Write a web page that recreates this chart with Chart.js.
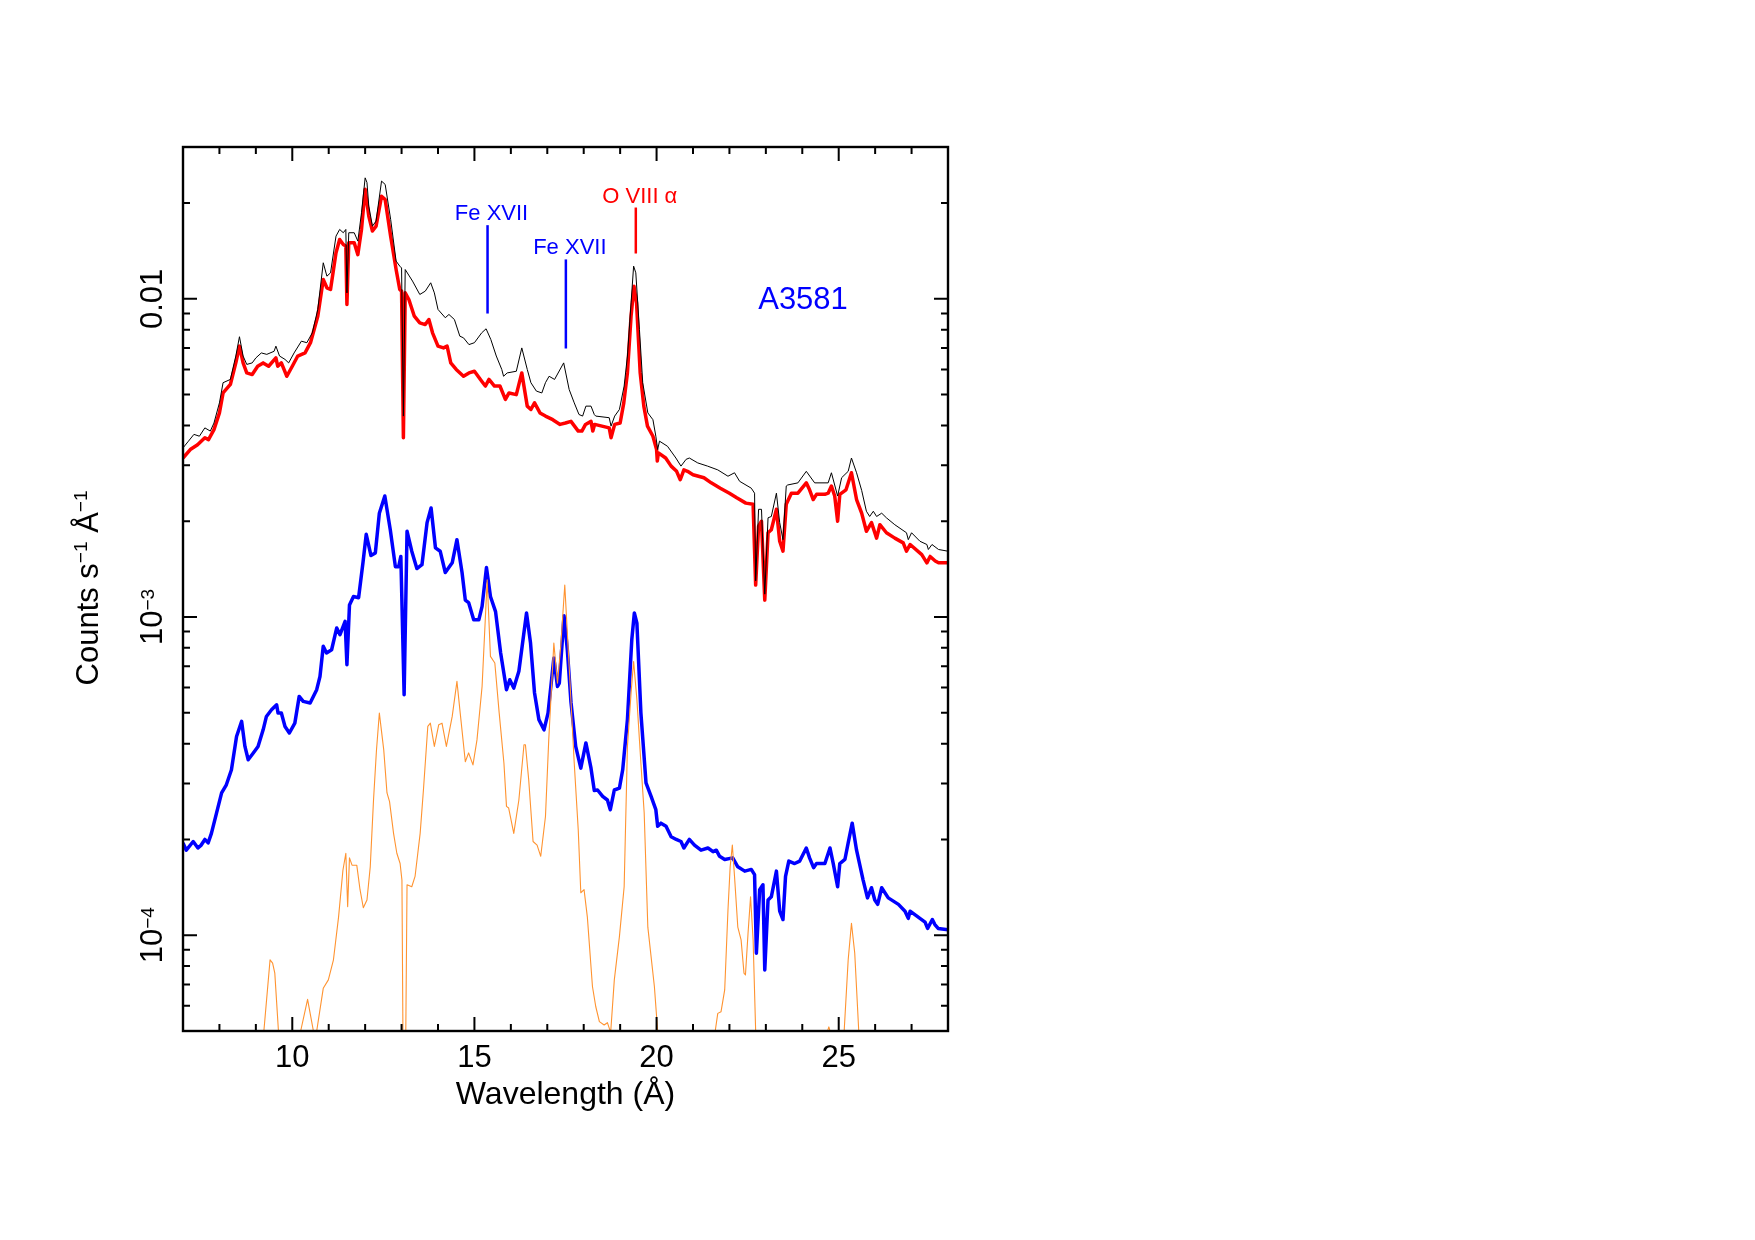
<!DOCTYPE html>
<html>
<head>
<meta charset="utf-8">
<script src="https://cdn.jsdelivr.net/npm/chart.js@4.4.0/dist/chart.umd.min.js"></script>
<style>
  html, body { margin: 0; padding: 0; background: #fff; }
  #wrap { width: 1755px; height: 1240px; }
</style>
</head>
<body>
<div id="wrap"><canvas id="spec" width="1755" height="1240"></canvas></div>
<script>
// ----------------------------
// Data (wavelength in Å, counts s^-1 Å^-1)
// ----------------------------
const blackWave = [7.0, 7.15, 7.3, 7.45, 7.6, 7.75, 7.85, 8.0, 8.1, 8.3, 8.45, 8.55, 8.65, 8.75, 8.9, 9.0, 9.15, 9.3, 9.5, 9.55, 9.65, 9.8, 9.9, 10.05, 10.25, 10.4, 10.55, 10.7, 10.85, 10.95, 11.05, 11.2, 11.3, 11.4, 11.47, 11.5, 11.55, 11.7, 11.8, 11.9, 12.0, 12.05, 12.1, 12.2, 12.3, 12.45, 12.55, 12.7, 12.85, 12.95, 13.0, 13.05, 13.1, 13.3, 13.5, 13.65, 13.8, 13.9, 14.0, 14.2, 14.3, 14.45, 14.6, 14.7, 14.85, 15.0, 15.2, 15.32, 15.45, 15.6, 15.75, 15.8, 15.9, 16.15, 16.3, 16.45, 16.55, 16.7, 16.85, 16.95, 17.05, 17.2, 17.45, 17.6, 17.74, 17.87, 17.97, 18.06, 18.2, 18.29, 18.33, 18.7, 18.75, 18.85, 18.98, 19.11, 19.2, 19.3, 19.37, 19.43, 19.53, 19.62, 19.76, 19.9, 19.98, 20.03, 20.08, 20.3, 20.53, 20.67, 20.81, 20.9, 21.13, 21.4, 21.68, 21.96, 22.14, 22.28, 22.6, 22.69, 22.72, 22.8, 22.88, 22.97, 23.06, 23.15, 23.29, 23.38, 23.47, 23.56, 23.6, 23.88, 24.11, 24.34, 24.71, 24.8, 24.97, 25.08, 25.26, 25.35, 25.49, 25.63, 25.76, 25.85, 25.95, 26.04, 26.18, 26.31, 26.54, 26.86, 26.91, 27.0, 27.23, 27.42, 27.46, 27.56, 27.74, 28.0];
const blackFlux = [0.0034, 0.00357, 0.00375, 0.0037, 0.00393, 0.00384, 0.00407, 0.00471, 0.00545, 0.00558, 0.00661, 0.0076, 0.00661, 0.00622, 0.00629, 0.00652, 0.00676, 0.00669, 0.00684, 0.0071, 0.00661, 0.00645, 0.00629, 0.00676, 0.00736, 0.00728, 0.00782, 0.00926, 0.01298, 0.01178, 0.01207, 0.01574, 0.01652, 0.01613, 0.01652, 0.01044, 0.01613, 0.01613, 0.01518, 0.01864, 0.024, 0.0232, 0.01956, 0.01692, 0.01755, 0.02344, 0.02288, 0.01777, 0.01314, 0.01267, 0.0125, 0.00428, 0.01236, 0.01137, 0.01032, 0.01057, 0.01123, 0.01044, 0.00926, 0.00872, 0.00893, 0.00861, 0.00763, 0.00754, 0.00718, 0.00728, 0.00782, 0.00805, 0.00745, 0.00661, 0.006, 0.00571, 0.00585, 0.00592, 0.00701, 0.006, 0.00545, 0.00513, 0.00506, 0.00545, 0.00571, 0.00558, 0.00629, 0.00519, 0.00471, 0.00433, 0.00428, 0.0046, 0.0046, 0.00433, 0.00428, 0.00423, 0.00398, 0.00428, 0.00449, 0.00532, 0.00661, 0.00971, 0.01267, 0.01207, 0.008, 0.00545, 0.00438, 0.00417, 0.0037, 0.00336, 0.00357, 0.00344, 0.00316, 0.00298, 0.00313, 0.00316, 0.00305, 0.00298, 0.0029, 0.00277, 0.00284, 0.00267, 0.00254, 0.00245, 0.0013, 0.00218, 0.00218, 0.00118, 0.00205, 0.00207, 0.00245, 0.00198, 0.00175, 0.00258, 0.0026, 0.00264, 0.00287, 0.00264, 0.00264, 0.00284, 0.0024, 0.00274, 0.00287, 0.00316, 0.00284, 0.0025, 0.00215, 0.00207, 0.00215, 0.00207, 0.00212, 0.00205, 0.00195, 0.00184, 0.00175, 0.00184, 0.00173, 0.00169, 0.00163, 0.00169, 0.00163, 0.00161];

const redWave = [7.0, 7.2, 7.4, 7.6, 7.7, 7.85, 8.0, 8.1, 8.3, 8.45, 8.55, 8.65, 8.75, 8.9, 9.05, 9.2, 9.35, 9.55, 9.6, 9.7, 9.85, 10.0, 10.15, 10.35, 10.5, 10.7, 10.85, 10.95, 11.05, 11.2, 11.3, 11.4, 11.47, 11.5, 11.55, 11.7, 11.8, 11.9, 12.0, 12.1, 12.2, 12.3, 12.45, 12.55, 12.7, 12.85, 12.95, 13.0, 13.05, 13.1, 13.2, 13.35, 13.5, 13.65, 13.75, 13.85, 14.0, 14.15, 14.25, 14.35, 14.5, 14.7, 14.85, 15.0, 15.2, 15.3, 15.4, 15.55, 15.7, 15.85, 15.95, 16.15, 16.3, 16.45, 16.55, 16.65, 16.8, 16.95, 17.15, 17.35, 17.5, 17.65, 17.85, 17.95, 18.05, 18.2, 18.25, 18.3, 18.5, 18.7, 18.75, 18.85, 19.0, 19.1, 19.2, 19.3, 19.38, 19.45, 19.55, 19.65, 19.75, 19.9, 20.0, 20.02, 20.05, 20.25, 20.4, 20.55, 20.65, 20.75, 20.85, 21.0, 21.3, 21.5, 21.75, 22.0, 22.2, 22.45, 22.65, 22.72, 22.8, 22.88, 22.97, 23.06, 23.15, 23.29, 23.38, 23.47, 23.56, 23.7, 23.88, 24.11, 24.2, 24.3, 24.39, 24.62, 24.71, 24.8, 24.89, 24.97, 25.03, 25.2, 25.35, 25.49, 25.63, 25.76, 25.9, 26.04, 26.13, 26.31, 26.54, 26.77, 26.86, 26.96, 27.28, 27.42, 27.51, 27.65, 27.74, 28.0];
const redFlux = [0.00316, 0.00336, 0.00348, 0.00366, 0.00361, 0.00388, 0.00438, 0.00506, 0.00538, 0.00629, 0.0071, 0.00629, 0.00585, 0.00578, 0.00614, 0.00629, 0.00614, 0.00652, 0.00614, 0.00629, 0.00571, 0.00614, 0.00661, 0.00676, 0.00728, 0.00882, 0.0115, 0.01083, 0.0107, 0.01395, 0.01537, 0.01482, 0.01464, 0.0096, 0.015, 0.015, 0.01377, 0.01652, 0.0221, 0.0182, 0.01633, 0.01692, 0.021, 0.0205, 0.01574, 0.01236, 0.0107, 0.01057, 0.00366, 0.01044, 0.00995, 0.00882, 0.0084, 0.0083, 0.00861, 0.00782, 0.0071, 0.00701, 0.0071, 0.00629, 0.006, 0.00571, 0.00585, 0.00592, 0.00551, 0.00532, 0.00558, 0.00532, 0.00532, 0.00483, 0.00506, 0.005, 0.00585, 0.0046, 0.00449, 0.00471, 0.00438, 0.00428, 0.00417, 0.00403, 0.00407, 0.00412, 0.00384, 0.00384, 0.00403, 0.00412, 0.00384, 0.00403, 0.00398, 0.00393, 0.00366, 0.00403, 0.00407, 0.00471, 0.00585, 0.00882, 0.01096, 0.00971, 0.00585, 0.0046, 0.00398, 0.0037, 0.00336, 0.00309, 0.00328, 0.00316, 0.00298, 0.00287, 0.0027, 0.0029, 0.00287, 0.0028, 0.00274, 0.00264, 0.00254, 0.00245, 0.00237, 0.00228, 0.00226, 0.00126, 0.00193, 0.002, 0.00113, 0.00184, 0.00188, 0.00218, 0.00173, 0.00161, 0.00226, 0.00245, 0.00245, 0.00264, 0.00251, 0.00234, 0.00243, 0.00243, 0.00245, 0.00258, 0.0024, 0.002, 0.00243, 0.00251, 0.00284, 0.00234, 0.00212, 0.00186, 0.00198, 0.00177, 0.00195, 0.00184, 0.00177, 0.00171, 0.00161, 0.00169, 0.00157, 0.00148, 0.00155, 0.0015, 0.00148, 0.00148];

const blueWave = [7.0, 7.09, 7.28, 7.41, 7.5, 7.6, 7.69, 7.78, 7.92, 8.06, 8.19, 8.33, 8.47, 8.61, 8.7, 8.79, 8.93, 9.06, 9.2, 9.29, 9.43, 9.57, 9.61, 9.7, 9.8, 9.92, 10.07, 10.19, 10.3, 10.49, 10.67, 10.76, 10.85, 10.94, 11.08, 11.22, 11.31, 11.45, 11.5, 11.57, 11.68, 11.82, 11.94, 12.03, 12.16, 12.28, 12.39, 12.54, 12.69, 12.83, 12.92, 12.98, 13.07, 13.15, 13.28, 13.42, 13.56, 13.7, 13.81, 13.93, 14.06, 14.2, 14.39, 14.52, 14.66, 14.75, 14.84, 14.98, 15.12, 15.21, 15.33, 15.44, 15.58, 15.72, 15.88, 15.97, 16.08, 16.22, 16.43, 16.54, 16.65, 16.77, 16.91, 17.02, 17.18, 17.28, 17.33, 17.46, 17.55, 17.65, 17.78, 17.92, 18.06, 18.2, 18.29, 18.38, 18.52, 18.65, 18.73, 18.84, 18.98, 19.07, 19.2, 19.32, 19.39, 19.46, 19.57, 19.71, 19.85, 19.98, 20.03, 20.12, 20.26, 20.4, 20.54, 20.67, 20.75, 20.9, 21.04, 21.22, 21.41, 21.55, 21.64, 21.73, 21.87, 22.09, 22.23, 22.42, 22.6, 22.69, 22.74, 22.83, 22.92, 22.97, 23.06, 23.15, 23.29, 23.38, 23.47, 23.54, 23.63, 23.79, 23.93, 24.11, 24.2, 24.31, 24.39, 24.62, 24.76, 24.85, 24.97, 25.03, 25.17, 25.26, 25.37, 25.49, 25.67, 25.79, 25.9, 25.99, 26.07, 26.18, 26.36, 26.64, 26.82, 26.91, 26.96, 27.23, 27.37, 27.44, 27.57, 27.64, 27.73, 28.0];
const blueFlux = [0.000195, 0.000185, 0.000197, 0.000188, 0.000192, 0.0002, 0.000195, 0.000209, 0.000242, 0.00028, 0.000297, 0.000331, 0.000421, 0.00047, 0.000392, 0.000356, 0.000374, 0.000392, 0.000442, 0.000487, 0.000511, 0.00053, 0.000499, 0.000499, 0.000453, 0.000432, 0.000464, 0.000563, 0.000543, 0.000537, 0.000591, 0.00065, 0.000809, 0.000771, 0.000789, 0.000924, 0.00088, 0.000969, 0.000708, 0.00109, 0.00116, 0.00115, 0.00148, 0.00182, 0.00156, 0.00159, 0.00212, 0.0024, 0.00188, 0.00144, 0.00144, 0.00155, 0.00057, 0.00186, 0.00161, 0.00142, 0.00146, 0.00198, 0.0022, 0.00165, 0.00161, 0.00138, 0.00148, 0.00175, 0.00138, 0.00113, 0.00111, 0.00098, 0.00098, 0.00108, 0.00143, 0.00116, 0.00104, 0.000771, 0.000591, 0.000635, 0.000598, 0.000675, 0.00103, 0.000828, 0.000577, 0.000476, 0.000442, 0.000499, 0.000743, 0.000605, 0.00062, 0.00101, 0.000789, 0.00054, 0.000392, 0.000335, 0.000402, 0.000335, 0.000285, 0.000286, 0.000273, 0.000266, 0.000248, 0.000286, 0.00029, 0.000331, 0.000476, 0.000849, 0.00103, 0.000957, 0.000499, 0.000301, 0.000273, 0.000248, 0.00022, 0.000225, 0.00022, 0.000204, 0.0002, 0.000197, 0.000188, 0.0002, 0.000192, 0.000185, 0.000188, 0.000183, 0.000185, 0.000177, 0.000173, 0.000175, 0.000164, 0.000159, 0.000161, 0.000155, 0.0000878, 0.000139, 0.000144, 0.0000778, 0.000129, 0.000132, 0.000159, 0.000119, 0.000112, 0.000153, 0.000171, 0.000168, 0.000171, 0.000188, 0.000175, 0.000163, 0.000168, 0.000168, 0.000188, 0.000168, 0.000142, 0.000168, 0.000173, 0.000195, 0.000225, 0.000185, 0.000149, 0.000131, 0.000141, 0.000129, 0.000125, 0.000141, 0.000131, 0.000125, 0.000119, 0.000113, 0.000119, 0.000113, 0.00011, 0.000105, 0.000112, 0.000108, 0.000105, 0.000104];

// orange curve dips below the plotted range in places (values under 5e-5 are clipped)
const orangeWave = [7.0, 9.1, 9.22, 9.39, 9.46, 9.52, 9.62, 9.7, 10.15, 10.23, 10.42, 10.58, 10.62, 10.67, 10.85, 10.99, 11.13, 11.27, 11.39, 11.47, 11.52, 11.57, 11.64, 11.77, 11.86, 11.95, 12.05, 12.14, 12.23, 12.31, 12.39, 12.51, 12.6, 12.67, 12.78, 12.87, 12.96, 13.01, 13.05, 13.1, 13.15, 13.28, 13.37, 13.51, 13.6, 13.72, 13.79, 13.9, 14.02, 14.11, 14.23, 14.39, 14.52, 14.61, 14.75, 14.84, 14.96, 15.07, 15.21, 15.35, 15.44, 15.56, 15.68, 15.81, 15.88, 15.94, 16.08, 16.22, 16.36, 16.4, 16.49, 16.61, 16.72, 16.82, 16.95, 17.04, 17.18, 17.28, 17.37, 17.48, 17.6, 17.74, 17.85, 17.92, 18.01, 18.1, 18.24, 18.33, 18.43, 18.56, 18.65, 18.74, 18.84, 18.98, 19.11, 19.2, 19.3, 19.37, 19.46, 19.57, 19.66, 19.76, 19.94, 20.03, 20.1, 21.55, 21.61, 21.68, 21.77, 21.87, 21.96, 22.02, 22.08, 22.14, 22.23, 22.32, 22.4, 22.44, 22.51, 22.58, 22.65, 22.72, 22.78, 24.62, 24.68, 24.73, 24.77, 24.82, 25.1, 25.15, 25.26, 25.35, 25.44, 25.55, 25.6, 28.0];
const orangeFlux = [0.00003, 0.00003, 0.00005, 0.0000837, 0.0000817, 0.000076, 0.00005, 0.00003, 0.00003, 0.00005, 0.0000629, 0.00005, 0.00004, 0.00005, 0.0000681, 0.0000724, 0.0000837, 0.000114, 0.00016, 0.000181, 0.000123, 0.000175, 0.000166, 0.000166, 0.000139, 0.000122, 0.000129, 0.000164, 0.000266, 0.00038, 0.000499, 0.000383, 0.00028, 0.000263, 0.000209, 0.000181, 0.000168, 0.000149, 0.00003, 0.00003, 0.000144, 0.000142, 0.000153, 0.000209, 0.000286, 0.000453, 0.000464, 0.000392, 0.000459, 0.000464, 0.000392, 0.000487, 0.000628, 0.000499, 0.000351, 0.000374, 0.000343, 0.000411, 0.000605, 0.00131, 0.000752, 0.000717, 0.000499, 0.000347, 0.000254, 0.000251, 0.000209, 0.000266, 0.000397, 0.000397, 0.000308, 0.000197, 0.000192, 0.000177, 0.000236, 0.000411, 0.000828, 0.00062, 0.000809, 0.00126, 0.0007, 0.000347, 0.000214, 0.000136, 0.000139, 0.000114, 0.000069, 0.0000597, 0.0000535, 0.0000522, 0.0000531, 0.0000495, 0.0000724, 0.000099, 0.000142, 0.000392, 0.000577, 0.000725, 0.00055, 0.000347, 0.000242, 0.000106, 0.000069, 0.00005, 0.00003, 0.00003, 0.00005, 0.0000568, 0.0000575, 0.0000673, 0.00012, 0.000164, 0.000192, 0.000153, 0.000106, 0.0000967, 0.000076, 0.000075, 0.000101, 0.000132, 0.0000967, 0.00005, 0.00003, 0.00003, 0.0000495, 0.0000515, 0.0000495, 0.00003, 0.00003, 0.00005, 0.0000837, 0.000109, 0.0000878, 0.00005, 0.00003, 0.00003];

// axis ticks and labels
const xMajorTicks = [10, 15, 20, 25];
const xMinorTicks = [8, 9, 11, 12, 13, 14, 16, 17, 18, 19, 21, 22, 23, 24, 26, 27];
const yDecades = [1e-4, 1e-3, 1e-2];
const yTickLabels = [['10', '\u22124'], ['10', '\u22123'], ['0.01', '']];

// line identifications
const lineWave = [15.36, 17.51, 19.43];
const lineTop = [0.01704, 0.0133, 0.01936];
const lineBottom = [0.00899, 0.00698, 0.01388];
const lineName = ['Fe XVII', 'Fe XVII', 'O VIII \u03b1'];
const lineColor = ['#0000ff', '#0000ff', '#ff0000'];
const clusterName = 'A3581';

const FONT = '"Liberation Sans", Arial, Helvetica, sans-serif';

function pts(xs, ys) {
  return xs.map((x, i) => ({ x: x, y: ys[i] }));
}

// draws a label made of [text, superscript] pieces, centred on cx along the baseline
function drawSupText(ctx, pieces, cx, baseY) {
  let total = 0;
  pieces.forEach(p => { ctx.font = p.size + 'px ' + FONT; p.w = ctx.measureText(p.t).width; total += p.w; });
  let x = cx - total / 2;
  pieces.forEach(p => {
    ctx.font = p.size + 'px ' + FONT;
    ctx.fillText(p.t, x, baseY - (p.rise || 0));
    x += p.w;
  });
}

// ----------------------------
// Frame, inside ticks, labels, annotations
// ----------------------------
const frameAxes = {
  id: 'frameAxes',
  afterDatasetsDraw(chart) {
    const ctx = chart.ctx;
    const xs = chart.scales.x, ys = chart.scales.y;
    const a = chart.chartArea;
    ctx.save();
    ctx.strokeStyle = '#000';
    ctx.fillStyle = '#000';
    ctx.lineWidth = 2;

    // x ticks, bottom and top
    const xTick = (v, len) => {
      const px = xs.getPixelForValue(v);
      ctx.beginPath();
      ctx.moveTo(px, a.bottom); ctx.lineTo(px, a.bottom - len);
      ctx.moveTo(px, a.top); ctx.lineTo(px, a.top + len);
      ctx.stroke();
    };
    xMinorTicks.forEach(v => xTick(v, 7));
    xMajorTicks.forEach(v => xTick(v, 14));

    // y ticks, left and right
    const yTick = (v, len) => {
      const py = ys.getPixelForValue(v);
      ctx.beginPath();
      ctx.moveTo(a.left, py); ctx.lineTo(a.left + len, py);
      ctx.moveTo(a.right, py); ctx.lineTo(a.right - len, py);
      ctx.stroke();
    };
    const yMin = ys.min, yMax = ys.max;
    [1e-5].concat(yDecades).forEach(d => {
      for (let m = 2; m <= 9; m++) {
        const v = m * d;
        if (v > yMin * 1.0001 && v < yMax * 0.9999) yTick(v, 7);
      }
    });
    yDecades.forEach(v => yTick(v, 14));

    // frame
    ctx.lineWidth = 2.4;
    ctx.strokeRect(a.left, a.top, a.right - a.left, a.bottom - a.top);

    // x tick labels
    ctx.textAlign = 'left';
    ctx.textBaseline = 'alphabetic';
    xMajorTicks.forEach(v => {
      drawSupText(ctx, [{ t: String(v), size: 31 }], xs.getPixelForValue(v), a.bottom + 36);
    });
    drawSupText(ctx, [{ t: 'Wavelength (\u00c5)', size: 32 }], (a.left + a.right) / 2, a.bottom + 73);

    // y tick labels (rotated)
    yDecades.forEach((v, i) => {
      const py = ys.getPixelForValue(v);
      ctx.save();
      ctx.translate(a.left - 21, py);
      ctx.rotate(-Math.PI / 2);
      const lab = yTickLabels[i];
      const pieces = [{ t: lab[0], size: 31 }];
      if (lab[1]) pieces.push({ t: lab[1], size: 19, rise: 8 });
      drawSupText(ctx, pieces, 0, 0);
      ctx.restore();
    });

    // y title
    ctx.save();
    ctx.translate(a.left - 85, (a.top + a.bottom) / 2 - 1);
    ctx.rotate(-Math.PI / 2);
    drawSupText(ctx, [
      { t: 'Counts s', size: 31 },
      { t: '\u22121', size: 19, rise: 11 },
      { t: ' \u00c5', size: 31 },
      { t: '\u22121', size: 19, rise: 11 }
    ], 0, 0);
    ctx.restore();

    // line identifications
    ctx.lineWidth = 2.5;
    lineWave.forEach((w, i) => {
      const px = xs.getPixelForValue(w);
      const pt = ys.getPixelForValue(lineTop[i]);
      const pb = ys.getPixelForValue(lineBottom[i]);
      ctx.strokeStyle = lineColor[i];
      ctx.fillStyle = lineColor[i];
      ctx.beginPath();
      ctx.moveTo(px, pt); ctx.lineTo(px, pb);
      ctx.stroke();
      drawSupText(ctx, [{ t: lineName[i], size: 22 }], px + 4, pt - 5);
    });

    // cluster name
    ctx.fillStyle = '#0000ff';
    ctx.font = '31px ' + FONT;
    ctx.textAlign = 'left';
    ctx.fillText(clusterName, xs.getPixelForValue(22.79), ys.getPixelForValue(0.00932));

    ctx.restore();
  }
};

// ----------------------------
// Chart
// ----------------------------
const ctxSpec = document.getElementById('spec');
new Chart(ctxSpec, {
  type: 'scatter',
  data: {
    datasets: [
      { label: 'total', data: pts(blackWave, blackFlux), borderColor: '#000000', borderWidth: 1 },
      { label: 'A3581', data: pts(redWave, redFlux), borderColor: '#ff0000', borderWidth: 3.5 },
      { label: 'component', data: pts(orangeWave, orangeFlux), borderColor: '#ff9330', borderWidth: 1.1 },
      { label: 'cool', data: pts(blueWave, blueFlux), borderColor: '#0000ff', borderWidth: 3.5 }
    ]
  },
  options: {
    responsive: false,
    animation: false,
    devicePixelRatio: 1,
    layout: { padding: { left: 183, top: 147, right: 807, bottom: 209 } },
    plugins: { legend: { display: false }, tooltip: { enabled: false } },
    datasets: {
      scatter: { showLine: true, pointRadius: 0, tension: 0, borderJoinStyle: 'round', fill: false }
    },
    scales: {
      x: { type: 'linear', min: 7, max: 28, display: false },
      y: { type: 'logarithmic', min: 5e-5, max: 0.03, display: false }
    }
  },
  plugins: [frameAxes]
});
</script>
</body>
</html>
